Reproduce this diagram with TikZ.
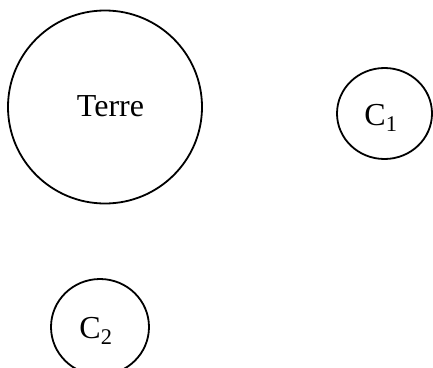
\documentclass[tikz,border=0pt]{standalone}
\usepackage{fontspec}
\setmainfont{Liberation Serif}
\usetikzlibrary{shapes.geometric}
\begin{document}
\begin{tikzpicture}[x=1pt,y=-1pt,
  body/.style={draw=black, line width=1.8pt, ellipse, inner sep=0pt, outer sep=0pt},
  lbl/.style={inner sep=0pt, font=\fontsize{32}{38}\selectfont}]
\useasboundingbox (0,0) rectangle (433,367);
\node[body, minimum width=194pt, minimum height=193pt] (terre) at (105,107) {};
\node[lbl] (terret) at (110.5,106) {Terre};
\node[body, minimum width=95pt, minimum height=91pt] (c1) at (384.5,113.5) {};
\node[lbl, anchor=base] (c1t) at (381,125) {C\textsubscript{1}};
\node[body, minimum width=98pt, minimum height=96pt] (c2) at (100,327) {};
\node[lbl, anchor=base] (c2t) at (96,338) {C\textsubscript{2}};
\end{tikzpicture}
\end{document}
